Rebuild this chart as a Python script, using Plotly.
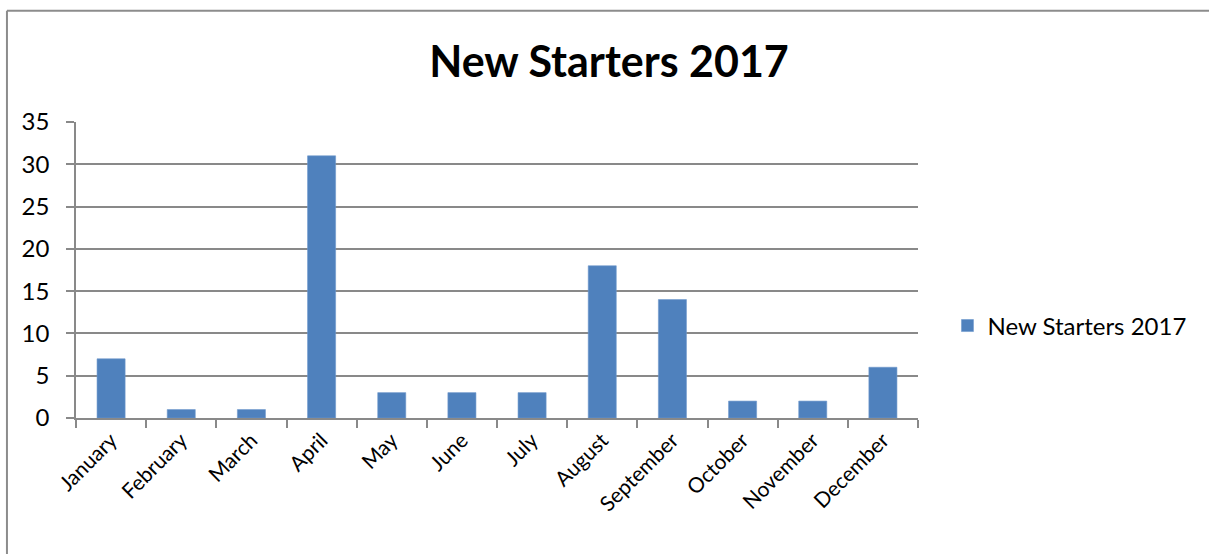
import plotly.graph_objects as go

months = ["January", "February", "March", "April", "May", "June", "July",
          "August", "September", "October", "November", "December"]
starters = [7, 1, 1, 31, 3, 3, 3, 18, 14, 2, 2, 6]
series_name = "New Starters 2017"
y_ticks = [0, 5, 10, 15, 20, 25, 30, 35]

grid = "#898989"
font_family = "Lato, 'Open Sans', sans-serif"

fig = go.Figure(
    go.Bar(
        x=months,
        y=starters,
        name=series_name,
        marker=dict(color="#4F81BD", line=dict(color="#6F98CC", width=0.6)),
        showlegend=True,
    )
)

fig.update_layout(
    width=1209,
    height=554,
    margin=dict(l=76, r=291, t=122, b=136),
    paper_bgcolor="white",
    plot_bgcolor="white",
    bargap=0.6,
    font=dict(family=font_family, size=21, color="black"),
    title=dict(
        text="<b>New Starters 2017</b>",
        x=609 / 1209,
        xanchor="center",
        y=1 - 62 / 554,
        yanchor="middle",
        font=dict(family=font_family, size=43, color="black"),
    ),
    legend=dict(
        x=1.035,
        y=0.311,
        xanchor="left",
        yanchor="middle",
        font=dict(size=24),
        itemwidth=30,
        bgcolor="rgba(0,0,0,0)",
    ),
    shapes=[
        # outer chart frame (top and left edges)
        dict(type="line", xref="paper", yref="paper",
             x0=-0.082, x1=1.5, y0=1.376, y1=1.376,
             line=dict(color="#8c8c8c", width=2)),
        dict(type="line", xref="paper", yref="paper",
             x0=-0.082, x1=-0.082, y0=1.376, y1=-0.5,
             line=dict(color="#8c8c8c", width=2)),
    ],
)

fig.update_yaxes(
    range=[0, 35],
    tickvals=y_ticks,
    showgrid=True,
    gridcolor=grid,
    gridwidth=1.5,
    showline=True,
    linecolor=grid,
    linewidth=1.5,
    ticks="outside",
    ticklen=8,
    tickcolor=grid,
    tickwidth=1.5,
    ticklabelstandoff=12,
    zeroline=False,
    tickfont=dict(size=24),
)

fig.update_xaxes(
    showgrid=False,
    showline=True,
    linecolor=grid,
    linewidth=1.5,
    ticks="outside",
    tickson="boundaries",
    ticklen=8,
    tickcolor=grid,
    tickwidth=1.5,
    tickangle=-45,
    tickfont=dict(size=21),
)

fig.write_html("out.html")
